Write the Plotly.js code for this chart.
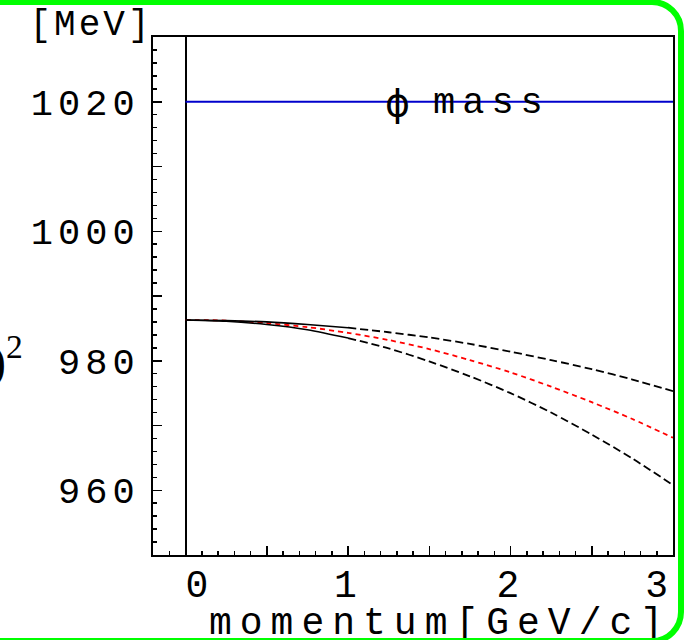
<!DOCTYPE html>
<html>
<head>
<meta charset="utf-8">
<script src="https://cdn.plot.ly/plotly-3.0.1.min.js"></script>
<style>
  html, body { margin: 0; padding: 0; background: #fff; overflow: hidden; }
  #wrap { position: relative; width: 686px; height: 640px; overflow: hidden; }
  #chart { position: absolute; left: 0; top: 0; width: 686px; height: 640px; }
  /* rounded green frame around the panel */
  #frame {
    position: absolute; left: -40px; top: -1px; width: 724px; height: 645px;
    box-sizing: border-box; border: 6px solid #00ff00; border-radius: 32px;
    pointer-events: none;
  }
  .xtick text, .ytick text { letter-spacing: 5px; }
  g.annotation[data-index="0"] text { letter-spacing: 3px; }
  g.annotation[data-index="2"] text { letter-spacing: 7px; }
  g.annotation[data-index="4"] text { letter-spacing: 8px; }
</style>
</head>
<body>
<div id="wrap">
  <div id="chart"></div>
  <div id="frame"></div>
</div>
<script>
// momentum grid [GeV/c]
const momentum = [0, 0.25, 0.5, 0.75, 1.0, 1.25, 1.5, 1.75, 2.0, 2.25, 2.5, 2.75, 3.0];
// effective mass curves [MeV]
const massUpper  = [986.3, 986.2, 986.0, 985.6, 985.1, 984.4, 983.6, 982.6, 981.4, 980.1, 978.7, 977.1, 975.3];
const massMiddle = [986.3, 986.2, 985.8, 985.2, 984.3, 983.2, 981.8, 980.1, 978.2, 976.0, 973.6, 971.0, 968.1];
const massLower  = [986.3, 986.1, 985.6, 984.8, 983.5, 981.9, 979.9, 977.6, 975.0, 972.0, 968.6, 964.9, 960.8];
// vacuum phi mass line
const phiX = [0, 3];
const phiY = [1020, 1020];

// axis ticks
const xTickVals = [0, 0.5, 1, 1.5, 2, 2.5, 3];
const xTickText = ['\u00a00', '', '1', '', '2', '', '3\u00a0'];
const yTickVals = [960, 970, 980, 990, 1000, 1010, 1020];
const yTickText = ['960', '', '980', '', '1000', '', '1020'];

const MONO = '"Liberation Mono", "Courier New", monospace';
const splitAt = momentum.indexOf(1.0);

function line(x, y, color, dash, width) {
  return {
    x: x, y: y, type: 'scatter', mode: 'lines', hoverinfo: 'skip',
    line: { color: color, dash: dash, width: width, shape: 'spline', smoothing: 0.8 }
  };
}

const traces = [
  line(momentum, massMiddle, '#ff0000', '5px,4px', 1.8),
  line(momentum.slice(0, splitAt + 1), massUpper.slice(0, splitAt + 1), '#000', 'solid', 1.6),
  line(momentum.slice(splitAt), massUpper.slice(splitAt), '#000', '8px,4px', 1.8),
  line(momentum.slice(0, splitAt + 1), massLower.slice(0, splitAt + 1), '#000', 'solid', 1.6),
  line(momentum.slice(splitAt), massLower.slice(splitAt), '#000', '8px,4px', 1.8),
  { x: phiX, y: phiY, type: 'scatter', mode: 'lines', hoverinfo: 'skip',
    line: { color: '#0000cc', width: 2 } }
];

const layout = {
  width: 686, height: 640,
  margin: { l: 153, r: 13, t: 37, b: 85, pad: 0 },
  paper_bgcolor: '#fff', plot_bgcolor: '#fff',
  showlegend: false,
  font: { family: MONO, color: '#000' },
  xaxis: {
    range: [-0.2, 3], autorange: false,
    showline: true, mirror: true, linecolor: '#000', linewidth: 2,
    showgrid: false,
    zeroline: true, zerolinecolor: '#000', zerolinewidth: 2,
    tickmode: 'array', tickvals: xTickVals, ticktext: xTickText,
    ticks: 'inside', ticklen: 9, tickwidth: 1.5, tickcolor: '#000',
    ticklabelstandoff: -6, ticklabeloverflow: 'allow',
    tickfont: { family: MONO, size: 38, color: '#000' },
    minor: { tickmode: 'linear', tick0: 0, dtick: 0.1, ticks: 'inside', ticklen: 4, tickwidth: 1.5, tickcolor: '#000', showgrid: false }
  },
  yaxis: {
    range: [950, 1030], autorange: false,
    showline: true, mirror: true, linecolor: '#000', linewidth: 2,
    showgrid: false, zeroline: false,
    tickmode: 'array', tickvals: yTickVals, ticktext: yTickText,
    ticks: 'inside', ticklen: 9, tickwidth: 1.5, tickcolor: '#000',
    ticklabelstandoff: 4, ticklabeloverflow: 'allow',
    tickfont: { family: MONO, size: 37, color: '#000' },
    minor: { tickmode: 'linear', tick0: 950, dtick: 2, ticks: 'inside', ticklen: 4, tickwidth: 1.5, tickcolor: '#000', showgrid: false }
  },
  annotations: [
    { text: '[MeV]', xref: 'paper', yref: 'paper', x: -0.119, y: 1.023,
      xanchor: 'center', yanchor: 'middle', showarrow: false,
      font: { family: MONO, size: 36, color: '#000' } },
    { text: 'ϕ', xref: 'x', yref: 'y', x: 1.305, y: 1019.8,
      xanchor: 'center', yanchor: 'middle', showarrow: false,
      font: { family: '"DejaVu Sans", sans-serif', size: 38, color: '#000' } },
    { text: 'mass', xref: 'x', yref: 'y', x: 1.88, y: 1019.8,
      xanchor: 'center', yanchor: 'middle', showarrow: false,
      font: { family: MONO, size: 37, color: '#000' } },
    { text: ')<sup>2</sup>', xref: 'paper', yref: 'y', x: -0.246, y: 980.3,
      xanchor: 'right', yanchor: 'middle', showarrow: false,
      font: { family: '"Liberation Serif", serif', size: 48, color: '#000' } },
    { text: 'momentum[GeV/c]', xref: 'paper', yref: 'paper', x: 0.552, y: -0.177,
      xanchor: 'center', yanchor: 'bottom', showarrow: false,
      font: { family: MONO, size: 38, color: '#000' } }
  ]
};

Plotly.newPlot('chart', traces, layout, { staticPlot: true, displayModeBar: false });
</script>
</body>
</html>
